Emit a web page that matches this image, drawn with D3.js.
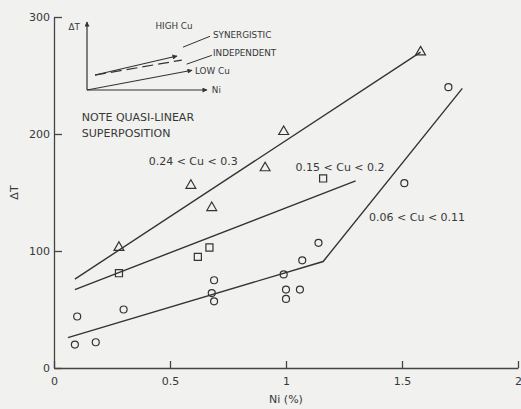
<!DOCTYPE html>
<html>
<head>
<meta charset="utf-8">
<script src="https://cdn.jsdelivr.net/npm/d3@7"></script>
<style>
  body { margin: 0; background: #f1f1ef; }
  svg { display: block; }
  text { font-family: "DejaVu Sans", sans-serif; fill: #383838; }
</style>
</head>
<body>
<script>
// size of the page
const width = 521
const height = 409

// data: [Ni %, delta T]
const triangles = [[0.28, 103], [0.59, 156], [0.68, 137], [0.91, 171], [0.99, 202], [1.58, 270]]
const squares = [[0.28, 81], [0.62, 95], [0.67, 103], [1.16, 162]]
const circles = [[0.09, 20], [0.10, 44], [0.18, 22], [0.30, 50], [0.68, 64], [0.69, 57], [0.69, 75],
                 [0.99, 80], [1.00, 67], [1.00, 59], [1.06, 67], [1.07, 92], [1.14, 107], [1.51, 158], [1.70, 240]]

// fitted lines
const triFit = [[0.09, 76], [1.58, 270]]
const sqFit = [[0.09, 67], [1.30, 160]]
const circFit = [[0.06, 26], [1.16, 91], [1.76, 239]]

// ticks
const xTicks = [0, 0.5, 1, 1.5, 2]
const yTicks = [0, 100, 200, 300]

// group labels [text, Ni, dT]
const groupLabels = [
  ["0.24 < Cu < 0.3", 0.60, 177],
  ["0.15 < Cu < 0.2", 1.233, 172],
  ["0.06 < Cu < 0.11", 1.565, 129]
]
const noteLines = [["NOTE QUASI-LINEAR", 0.12, 214], ["SUPERPOSITION", 0.12, 201]]

var svg = d3.select("body").append("svg")
            .attr("width", width)
            .attr("height", height)

var x = d3.scaleLinear().domain([0, 2]).range([54, 518])
var y = d3.scaleLinear().domain([0, 300]).range([368, 17])

// axes
svg.append("g")
   .attr("transform", "translate(0," + y(0) + ")")
   .call(d3.axisBottom(x).tickValues(xTicks).tickSizeInner(-7).tickSizeOuter(0).tickPadding(9)
          .tickFormat(d3.format("")))
svg.append("g")
   .attr("transform", "translate(" + x(0) + ",0)")
   .call(d3.axisLeft(y).tickValues(yTicks).tickSizeInner(-8).tickSizeOuter(0).tickPadding(4))

svg.selectAll(".domain, .tick line").attr("stroke", "#444").attr("stroke-width", 1.3)
svg.selectAll(".tick text")
   .attr("font-size", 11)
   .attr("fill", "#444")
   .style("font-family", "'DejaVu Sans', sans-serif")

// axis titles
svg.append("text")
   .attr("transform", "translate(18," + y(150) + ") rotate(-90)")
   .attr("text-anchor", "middle")
   .attr("font-size", 11)
   .text("ΔT")
svg.append("text")
   .attr("x", x(1))
   .attr("y", 403)
   .attr("text-anchor", "middle")
   .attr("font-size", 11)
   .text("Ni (%)")

// fit lines
var line = d3.line().x(d => x(d[0])).y(d => y(d[1]))
svg.append("g")
   .selectAll("path")
   .data([triFit, sqFit, circFit])
   .enter()
   .append("path")
   .attr("d", line)
   .attr("fill", "none")
   .attr("stroke", "#333")
   .attr("stroke-width", 1.4)

// markers
var sym = svg.append("g").attr("fill", "none").attr("stroke", "#333").attr("stroke-width", 1.2)
sym.selectAll(".tri")
   .data(triangles)
   .enter()
   .append("path")
   .attr("transform", d => "translate(" + x(d[0]) + "," + y(d[1]) + ")")
   .attr("d", d3.symbol().type(d3.symbolTriangle).size(42))
sym.selectAll(".sq")
   .data(squares)
   .enter()
   .append("path")
   .attr("transform", d => "translate(" + x(d[0]) + "," + y(d[1]) + ")")
   .attr("d", d3.symbol().type(d3.symbolSquare).size(50))
sym.selectAll("circle")
   .data(circles)
   .enter()
   .append("circle")
   .attr("cx", d => x(d[0]))
   .attr("cy", d => y(d[1]))
   .attr("r", 3.5)

// labels
svg.selectAll(".glabel")
   .data(groupLabels)
   .enter()
   .append("text")
   .attr("x", d => x(d[1]))
   .attr("y", d => y(d[2]))
   .attr("dy", "0.35em")
   .attr("text-anchor", "middle")
   .attr("font-size", 11)
   .text(d => d[0])
svg.selectAll(".note")
   .data(noteLines)
   .enter()
   .append("text")
   .attr("x", d => x(d[1]))
   .attr("y", d => y(d[2]))
   .attr("dy", "0.35em")
   .attr("font-size", 11)
   .text(d => d[0])

// inset schematic, its own unit scales
var ix = d3.scaleLinear().domain([0, 1]).range([87, 207])
var iy = d3.scaleLinear().domain([0, 1]).range([90, 22])

const insetAxes = [[[0, 0], [0, 1]], [[0, 0], [1, 0]]]
const insetArrows = [[[0.067, 0.22], [0.75, 0.5]], [[0, 0], [0.875, 0.29]]]
const insetDashed = [[0.067, 0.22], [0.79, 0.44]]
const insetLeaders = [[[0.80, 0.63], [1.025, 0.79]], [[0.83, 0.38], [1.04, 0.51]]]
const insetLabels = [
  ["HIGH Cu", 0.725, 0.94, "middle"],
  ["SYNERGISTIC", 1.05, 0.81, "start"],
  ["INDEPENDENT", 1.05, 0.54, "start"],
  ["LOW Cu", 0.9, 0.28, "start"],
  ["Ni", 1.04, 0, "start"],
  ["ΔT", -0.06, 0.93, "end"]
]

svg.append("defs").append("marker")
   .attr("id", "arr")
   .attr("viewBox", "0 0 10 10")
   .attr("refX", 9).attr("refY", 5)
   .attr("markerWidth", 7).attr("markerHeight", 5)
   .attr("markerUnits", "userSpaceOnUse")
   .attr("orient", "auto")
   .append("path")
   .attr("d", "M0,0L10,5L0,10Z")
   .attr("fill", "#333")

var iline = d3.line().x(d => ix(d[0])).y(d => iy(d[1]))
var inset = svg.append("g").attr("fill", "none").attr("stroke", "#333").attr("stroke-width", 1.2)
inset.selectAll(".ax")
   .data(insetAxes.concat(insetArrows))
   .enter()
   .append("path")
   .attr("d", iline)
   .attr("marker-end", "url(#arr)")
inset.append("path")
   .attr("d", iline(insetDashed))
   .attr("stroke-dasharray", "11,5")
inset.selectAll(".lead")
   .data(insetLeaders)
   .enter()
   .append("path")
   .attr("d", iline)
   .attr("stroke-width", 1)

svg.selectAll(".ilabel")
   .data(insetLabels)
   .enter()
   .append("text")
   .attr("x", d => ix(d[1]))
   .attr("y", d => iy(d[2]))
   .attr("dy", "0.35em")
   .attr("text-anchor", d => d[3])
   .attr("font-size", 8.8)
   .text(d => d[0])
</script>
</body>
</html>
